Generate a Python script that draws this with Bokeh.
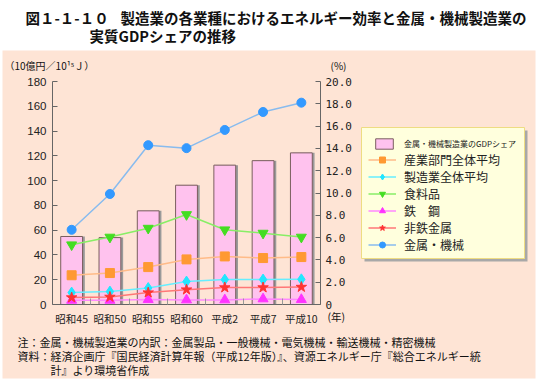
from bokeh.plotting import figure
from bokeh.models import (Range1d, LinearAxis, FixedTicker, Label, Legend, LegendItem,
                          BoxAnnotation, ColumnDataSource)
from bokeh.transform import dodge
from bokeh.core.properties import value
from bokeh.embed import file_html
from bokeh.resources import INLINE

# ---------------- data ----------------
categories = ["昭和45", "昭和50", "昭和55", "昭和60", "平成2", "平成7", "平成10"]
gdp_share = [6.1, 6.0, 8.4, 10.7, 12.5, 12.9, 13.6]          # % (right axis)
industry_avg = [23.6, 25.4, 30.2, 36.4, 38.8, 37.5, 38.3]    # 産業部門全体平均
manuf_avg = [9.6, 10.4, 13.3, 18.5, 20.1, 20.1, 20.3]        # 製造業全体平均
food = [48.2, 54.4, 61.6, 72.6, 60.3, 57.6, 54.4]            # 食料品
steel = [3.4, 3.4, 4.0, 3.7, 3.7, 4.5, 4.0]                  # 鉄鋼
nonferrous = [5.6, 6.1, 9.6, 12.0, 13.7, 13.7, 14.1]         # 非鉄金属
metal_machine = [60.3, 89.2, 128.6, 126.2, 140.9, 155.4, 162.9]  # 金属・機械

left_ticks = [0, 20, 40, 60, 80, 100, 120, 140, 160, 180]
left_tick_labels = ["0", "20", "40", "60", "80", "100", "120", "140", "160", "180"]
right_ticks = [0, 2, 4, 6, 8, 10, 12, 14, 16, 18, 20]
right_tick_labels = ["0", "2.0", "4.0", "6.0", "8.0", "10.0", "12.0", "14.0", "16.0", "18.0", "20.0"]

title_num = "図１-１-１０"
title_line1 = "製造業の各業種におけるエネルギー効率と金属・機械製造業の"
title_line2 = "実質GDPシェアの推移"
left_unit = "（10億円／10¹⁵Ｊ）"
right_unit = "(%)"
x_unit = "(年)"
note1 = "注：金属・機械製造業の内訳：金属製品・一般機械・電気機械・輸送機械・精密機械"
note2 = "資料：経済企画庁『国民経済計算年報（平成12年版）』、資源エネルギー庁『総合エネルギー統"
note3 = "計』より環境省作成"
bar_label = "金属・機械製造業のGDPシェア"

JP = "Noto Sans CJK JP"

# ---------------- geometry of the page (pixels) ----------------
W, H = 542, 381                 # figure size; figure's top-left sits at page (8, 0)
PX0, PY0 = 8, 0
AX_L, AX_R, AX_B, AX_T = 60, 328, 304, 81   # plot box on the page
n = len(categories)
cw = (AX_R - AX_L) / n          # px per category
py = (AX_B - AX_T) / 180.0      # px per left-axis unit

xs = list(range(n))
x_start = -0.5 - (AX_L - PX0) / cw
x_end = (n - 0.5) + (PX0 + W - AX_R) / cw
y_start = -(PY0 + H - AX_B) / py
y_end = 180 + (AX_T - PY0) / py

src = ColumnDataSource(dict(x=xs, share=gdp_share, ind=industry_avg, man=manuf_avg,
                            food=food, steel=steel, nonf=nonferrous, mm=metal_machine))

p = figure(x_range=Range1d(x_start, x_end), y_range=Range1d(y_start, y_end),
           width=W, height=H, output_backend="svg", toolbar_location=None,
           min_border=0, border_fill_color="white", background_fill_color="white",
           x_axis_location=None, y_axis_location=None)
p.title.visible = False
p.outline_line_color = None
p.grid.visible = False
p.extra_y_ranges = {"pct": Range1d(y_start / 9.0, y_end / 9.0)}


def sx(x):
    return x - PX0


def sy(y):
    return PY0 + H - y


def box(l, r, t, b, fill, line=None):
    p.add_layout(BoxAnnotation(left=sx(l), right=sx(r), bottom=sy(b), top=sy(t),
                               left_units="screen", right_units="screen",
                               bottom_units="screen", top_units="screen",
                               fill_color=fill, fill_alpha=1, line_color=line,
                               line_alpha=1, line_width=1, level="underlay"))


box(10, 543, 50, 378, "#FEE4D5")                 # peach panel
box(372, 535, 130, 261, "#A8A8A8")               # legend shadow
box(369, 532, 127, 258, "#FFFFDD", "#EEDC82")    # legend frame

# bars (with a soft shadow)
p.vbar(x=dodge("x", 0.06), top="share", bottom=0, width=0.57, source=src,
       y_range_name="pct", fill_color="#9A9A9A", line_color=None)
bars = p.vbar(x="x", top="share", bottom=0, width=0.57, source=src, y_range_name="pct",
              fill_color="#FFC2EE", line_color="#7A5E5E", line_width=1)

series = [
    ("ind", "産業部門全体平均", "#FFBB88", "#FF9933", "square", 9),
    ("man", "製造業全体平均", "#66EEFF", "#22E6FF", "diamond", 11),
    ("food", "食料品", "#88EE66", "#44DD22", "inverted_triangle", 10),
    ("steel", "鉄　鋼", "#FF88FF", "#FF33FF", "triangle", 10),
    ("nonf", "非鉄金属", "#FF7777", "#FF3333", "star", 11),
    ("mm", "金属・機械", "#88BBEE", "#3399FF", "circle", 9),
]
items = []
for col, name, lc, mc, mk, sz in series:
    rl = p.line("x", col, source=src, line_color=lc, line_width=1.5)
    rs = p.scatter("x", col, source=src, marker=mk, size=sz, fill_color=mc, line_color=mc)
    items.append(LegendItem(label=value(name), renderers=[rl, rs]))

AXC = "#666666"

# left axis
ya = LinearAxis(ticker=FixedTicker(ticks=left_ticks), fixed_location=-0.5, bounds=(0, 180))
ya.major_label_overrides = {t: l for t, l in zip(left_ticks, left_tick_labels)}
ya.minor_tick_line_color = None
ya.major_tick_in = 5
ya.major_tick_out = 0
ya.major_label_standoff = 6
ya.axis_line_color = AXC
ya.major_tick_line_color = AXC
ya.major_label_text_font = "Liberation Sans"
ya.major_label_text_font_size = "11.5px"
ya.major_label_text_color = "#222222"
p.add_layout(ya, "left")

# right axis
ra = LinearAxis(y_range_name="pct", ticker=FixedTicker(ticks=right_ticks),
                fixed_location=n - 0.5, bounds=(0, 20))
ra.major_label_overrides = {t: l for t, l in zip(right_ticks, right_tick_labels)}
ra.minor_tick_line_color = None
ra.major_tick_in = 5
ra.major_tick_out = 0
ra.major_label_standoff = 5
ra.axis_line_color = AXC
ra.major_tick_line_color = AXC
ra.major_label_text_font = "DejaVu Sans Mono"
ra.major_label_text_font_size = "11px"
ra.major_label_text_color = "#222222"
p.add_layout(ra, "right")

# bottom axis: category names at centres, small ticks at category boundaries
xa = LinearAxis(ticker=FixedTicker(ticks=xs, minor_ticks=[i + 0.5 for i in xs[:-1]]),
                fixed_location=0, bounds=(-0.5, n - 0.5))
xa.major_label_overrides = {i: c for i, c in zip(xs, categories)}
xa.major_tick_in = 0
xa.major_tick_out = 0
xa.minor_tick_in = 6
xa.minor_tick_out = 0
xa.minor_tick_line_color = "#999999"
xa.major_label_standoff = 6
xa.axis_line_color = AXC
xa.major_label_text_font = JP
xa.major_label_text_font_size = "10.5px"
xa.major_label_text_color = "#222222"
p.add_layout(xa, "below")

# legends (two, sharing one drawn frame: the first entry uses a smaller font)
leg_bar = Legend(items=[LegendItem(label=value(bar_label), renderers=[bars])],
                 location=(sx(381), sy(150)), glyph_width=22, glyph_height=13,
                 label_height=13, padding=0, margin=0, label_standoff=9,
                 border_line_color=None, background_fill_alpha=0,
                 label_text_font=JP, label_text_font_size="8px", label_text_color="#222222")
p.add_layout(leg_bar, "center")

leg_lines = Legend(items=items, location=(sx(376), sy(252.5)), glyph_width=28, glyph_height=15,
                   label_height=15, spacing=0, padding=0, margin=0, label_standoff=8,
                   border_line_color=None, background_fill_alpha=0,
                   label_text_font=JP, label_text_font_size="12px", label_text_color="#222222")
p.add_layout(leg_lines, "center")


def lab(x, y, text, size, bold=False, align="left"):
    p.add_layout(Label(x=sx(x), y=sy(y), x_units="screen", y_units="screen", text=text,
                       text_font=JP, text_font_size=size, text_baseline="middle",
                       text_align=align, text_color="#111111",
                       text_font_style="bold" if bold else "normal"))


lab(33, 17, title_num, "14.5px", True)
lab(128, 17, title_line1, "14.5px", True)
lab(97, 35, title_line2, "14.5px", True)
lab(12, 65, left_unit, "10px")
lab(338, 65, right_unit, "10px")
lab(335, 316, x_unit, "10.5px")
lab(25, 341, note1, "11px")
lab(25, 355, note2, "11px")
lab(58, 369, note3, "11px")

open("out.html", "w").write(file_html(p, INLINE))
